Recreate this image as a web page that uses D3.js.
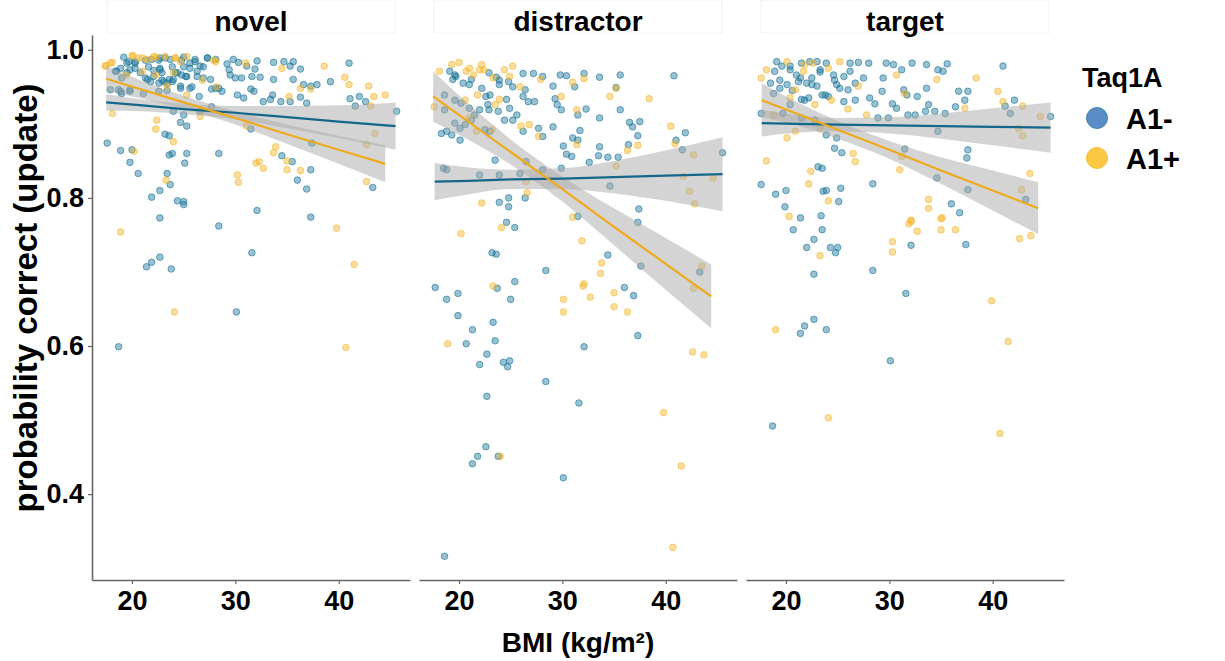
<!DOCTYPE html>
<html><head><meta charset="utf-8">
<script src="https://cdn.jsdelivr.net/npm/d3@7"></script>
<style>
body{margin:0;background:#fff}
svg{display:block}
text{font-family:"Liberation Sans",Arial,sans-serif;font-weight:bold;fill:#000}
</style></head>
<body><svg id="c" width="1225" height="661"></svg>
<script>
// ---------- data ----------
const panels = ["novel", "distractor", "target"];
const groups = ["A1-", "A1+"];
const xTicks = [20, 30, 40];
const yTicks = [0.4, 0.6, 0.8, 1.0];
const yTickLabels = ["0.4", "0.6", "0.8", "1.0"];
const xTitle = "BMI (kg/m²)";
const yTitle = "probability correct (update)";
const legendTitle = "Taq1A";

const novelA1minus = [[19.2,0.990],[19.5,0.982],[20.3,0.984],[21.9,0.987],[22.7,0.989],[23.7,0.987],[25.0,0.990],[25.6,0.982],[26.1,0.987],[26.6,0.978],[27.3,0.989],[28.1,0.987],[29.2,0.981],[29.8,0.987],[30.3,0.983],[31.1,0.978],[32.1,0.985],[33.7,0.983],[34.7,0.984],[35.6,0.984],[36.3,0.974],[35.3,0.978],[41.0,0.982],
[18.5,0.971],[19.0,0.962],[19.8,0.973],[20.8,0.969],[21.5,0.960],[22.1,0.964],[22.7,0.973],[23.1,0.957],[23.6,0.960],[24.0,0.960],[22.6,0.955],[24.2,0.969],[24.8,0.966],[25.3,0.964],[25.6,0.975],[26.3,0.964],[26.9,0.962],[27.6,0.960],[28.4,0.948],[29.4,0.973],[29.5,0.966],[30.0,0.962],[30.6,0.962],[31.6,0.964],[31.9,0.974],[32.4,0.963],[33.7,0.960],[35.6,0.960],[36.6,0.953],[37.3,0.951],[37.9,0.953],[39.2,0.957],
[17.9,0.946],[18.9,0.944],[19.8,0.946],[21.1,0.941],[22.6,0.944],[23.4,0.945],[24.7,0.951],[25.6,0.948],[26.5,0.937],[27.7,0.947],[28.7,0.944],[30.2,0.939],[30.8,0.935],[31.5,0.947],[31.8,0.944],[32.7,0.930],[33.4,0.933],[33.6,0.939],[34.4,0.930],[35.3,0.930],[36.3,0.936],[36.9,0.928],[41.1,0.934],[42.0,0.937],[42.6,0.930],[41.6,0.924],[45.6,0.917],[24.0,0.917],[25.0,0.912],[26.6,0.917],[27.7,0.923],
[24.7,0.902],[25.3,0.897],[23.2,0.886],[23.6,0.884],[17.6,0.874],[18.9,0.864],[20.0,0.865],[19.8,0.848],[23.6,0.858],[23.9,0.860],[25.3,0.860],[25.1,0.847],[28.4,0.860],[31.5,0.893],[34.5,0.857],[35.5,0.849],[37.3,0.838],[37.4,0.874],[20.6,0.833],[23.4,0.833],[23.7,0.818],[21.9,0.801],[22.7,0.810],[24.4,0.796],[25.0,0.795],[25.0,0.791],[36.0,0.824],[36.9,0.812],[43.3,0.814],[32.1,0.783],[37.3,0.774],[22.7,0.773],
[28.4,0.762],[31.6,0.726],[22.7,0.720],[21.9,0.713],[21.4,0.707],[23.8,0.704],[30.1,0.646],[18.7,0.599],
[19.7,0.984],[20.3,0.982],[21.3,0.986],[22.6,0.986],[23.2,0.989],[24.8,0.986],[25.0,0.977],[26.1,0.984],[27.3,0.989],[18.9,0.975],[19.5,0.969],[20.3,0.975],[21.6,0.977],[22.1,0.972],[22.7,0.975],[22.9,0.969],[23.9,0.977],[24.4,0.969],[25.2,0.964],[21.3,0.962],[21.8,0.957],[22.9,0.959],[23.4,0.955],[23.9,0.957],[26.3,0.971],[26.9,0.977],[25.8,0.950],[24.7,0.948],[18.4,0.971],[18.7,0.946],[19.8,0.944],[19.0,0.941],[28.1,0.948]];

const novelA1plus = [[17.5,0.979],[18.1,0.983],[20.1,0.992],[21.0,0.989],[21.5,0.987],[22.3,0.990],[23.2,0.991],[24.2,0.989],[24.7,0.984],[25.3,0.991],[28.1,0.984],[31.0,0.982],[34.5,0.975],[38.6,0.978],
[19.4,0.966],[23.4,0.951],[28.2,0.950],[36.3,0.948],[40.6,0.963],[41.0,0.953],[42.9,0.951],
[35.2,0.937],[37.3,0.947],[43.4,0.937],[44.5,0.939],[43.1,0.924],[18.1,0.914],[26.6,0.910],[25.3,0.939],
[22.4,0.905],[22.3,0.893],[24.0,0.876],[20.2,0.863],[31.1,0.897],[32.0,0.847],[32.3,0.849],[32.7,0.840],[35.0,0.850],[35.0,0.838],[36.3,0.837],[33.9,0.869],[33.7,0.861],[42.7,0.872],[43.5,0.887],[23.3,0.824],[30.2,0.831],[30.3,0.821],[42.7,0.822],
[18.9,0.754],[39.8,0.759],[41.5,0.710],[24.1,0.646],[40.7,0.598],
[20.0,0.992],[20.6,0.989],[22.1,0.991],[24.2,0.989],[21.0,0.971],[22.3,0.966],[24.0,0.969],[26.8,0.959],[17.9,0.982],[17.4,0.978],[27.9,0.986]];

const distractorA1minus = [[19.1,0.971],[19.4,0.960],[19.7,0.964],[20.4,0.955],[21.2,0.960],[22.9,0.969],[23.6,0.963],[24.8,0.957],[23.9,0.953],[22.2,0.948],[22.6,0.937],[24.6,0.933],[25.2,0.950],[26.2,0.968],[26.4,0.946],[27.2,0.968],[28.1,0.964],[26.2,0.937],[26.7,0.930],[27.3,0.930],[29.8,0.966],[30.4,0.965],[31.2,0.950],[32.1,0.968],[33.6,0.963],[35.6,0.966],[35.2,0.949],[40.8,0.965],[29.1,0.951],[29.3,0.934],[29.5,0.926],
[18.6,0.939],[19.6,0.932],[20.2,0.928],[21.0,0.921],[22.0,0.919],[22.8,0.926],[22.9,0.919],[23.8,0.917],[21.2,0.905],[19.6,0.901],[18.8,0.890],[18.3,0.887],[19.3,0.885],[20.6,0.899],[20.1,0.894],[23.0,0.890],[24.9,0.921],[25.6,0.912],[25.2,0.905],[26.2,0.890],[27.7,0.894],[28.1,0.883],[29.1,0.896],[29.9,0.919],[31.5,0.912],[32.3,0.920],[31.7,0.891],[31.0,0.881],[31.5,0.878],[33.6,0.908],[35.6,0.919],[36.5,0.902],[36.8,0.896],[37.5,0.903],[37.3,0.884],[30.1,0.870],[33.6,0.869],[36.4,0.872],[30.4,0.859],[30.9,0.856],[33.5,0.857],[34.4,0.855],[35.4,0.855],[41.0,0.878],[41.9,0.888],[41.6,0.865],[45.5,0.861],
[18.5,0.840],[18.8,0.838],[22.0,0.831],[23.9,0.831],[25.9,0.833],[23.5,0.851],[26.5,0.849],[28.1,0.838],[29.9,0.840],[32.6,0.848],[34.6,0.816],[23.9,0.794],[24.8,0.800],[26.4,0.800],[24.8,0.788],[37.4,0.785],[31.5,0.775],
[37.3,0.767],[24.6,0.767],[25.4,0.760],[23.2,0.726],[23.6,0.724],[34.4,0.723],[37.6,0.708],[43.3,0.700],[28.4,0.702],[25.4,0.687],[23.7,0.678],[17.7,0.679],[19.9,0.671],[18.8,0.663],[36.0,0.679],[36.9,0.668],[25.0,0.663],[19.9,0.641],[23.3,0.632],[21.3,0.622],[23.5,0.607],[20.7,0.603],[22.7,0.589],[37.3,0.614],[32.1,0.599],[22.0,0.575],[24.3,0.578],[24.9,0.580],[24.7,0.572],[28.4,0.552],[22.7,0.532],
[31.6,0.523],[22.6,0.464],[21.8,0.451],[21.3,0.441],[23.8,0.451],[30.1,0.422],[18.6,0.316],
[19.6,0.966],[21.0,0.953],[23.0,0.939],[23.9,0.959],[21.5,0.912],[18.6,0.919],[22.5,0.892],[24.4,0.905],[20.1,0.878]];

const distractorA1plus = [[18.1,0.971],[19.3,0.980],[20.0,0.983],[20.7,0.971],[21.0,0.975],[21.4,0.966],[22.2,0.980],[22.4,0.973],[23.3,0.962],[24.4,0.973],[24.9,0.964],[25.2,0.978],[21.8,0.939],[23.9,0.933],[25.9,0.950],[27.9,0.960],[31.0,0.956],[32.1,0.961],[35.2,0.948],[34.6,0.937],[38.4,0.934],[29.9,0.937],
[21.0,0.908],[17.6,0.923],[21.7,0.890],[23.2,0.892],[26.0,0.897],[26.8,0.899],[27.7,0.883],[31.4,0.919],[31.4,0.872],[37.3,0.871],[36.3,0.864],[40.9,0.873],[40.5,0.897],[42.7,0.858],
[26.5,0.822],[35.2,0.843],[44.6,0.827],[41.7,0.829],[42.3,0.809],[42.8,0.792],[26.6,0.807],[22.2,0.793],[31.0,0.774],
[24.1,0.760],[20.2,0.752],[31.9,0.742],[33.8,0.712],[33.7,0.698],[43.5,0.708],[23.3,0.681],[32.0,0.681],[32.1,0.684],[42.7,0.678],[30.1,0.663],[30.1,0.646],[32.7,0.666],[35.0,0.672],[35.0,0.653],[36.3,0.646],[18.9,0.603],[42.6,0.592],[43.7,0.588],
[39.8,0.510],[24.0,0.451],[41.5,0.438],[40.7,0.328],
[22.0,0.973],[20.6,0.932],[23.5,0.926]];

const targetA1minus = [[18.9,0.971],[19.1,0.984],[19.6,0.978],[20.4,0.978],[21.0,0.966],[21.5,0.982],[22.3,0.984],[23.0,0.984],[23.3,0.973],[23.9,0.982],[26.2,0.982],[27.0,0.983],[28.0,0.982],[29.7,0.982],[30.4,0.980],[31.2,0.973],[32.2,0.982],[33.6,0.980],[34.7,0.973],[35.6,0.981],[35.2,0.971],[41.0,0.978],[24.6,0.966],[25.6,0.964],[26.2,0.971],[27.5,0.962],[26.7,0.955],
[18.5,0.955],[19.4,0.948],[20.1,0.953],[20.6,0.945],[21.2,0.957],[22.0,0.955],[22.5,0.962],[23.0,0.951],[23.5,0.939],[22.2,0.935],[21.5,0.933],[24.1,0.937],[24.9,0.953],[25.2,0.948],[26.0,0.946],[18.8,0.941],[25.6,0.930],[26.7,0.932],[28.1,0.935],[28.6,0.927],[29.3,0.944],[29.4,0.962],[31.4,0.946],[31.7,0.939],[30.3,0.927],[30.7,0.921],[32.7,0.937],[33.6,0.948],[33.8,0.926],[33.5,0.917],[32.5,0.912],[34.4,0.917],[35.4,0.914],[36.4,0.923],[37.3,0.932],[36.7,0.944],[37.6,0.944],[41.2,0.924],[42.1,0.932],[45.6,0.910],[41.7,0.914],
[17.6,0.914],[19.7,0.914],[21.5,0.908],[22.8,0.905],[23.9,0.885],[24.9,0.881],[24.7,0.867],[25.4,0.861],[28.9,0.908],[29.9,0.908],[31.8,0.912],[31.5,0.866],[34.6,0.827],[37.6,0.865],[37.5,0.854],[37.6,0.811],[43.2,0.798],[34.7,0.890],
[23.1,0.842],[23.5,0.840],[28.4,0.819],[17.6,0.818],[19.0,0.805],[20.0,0.810],[23.6,0.809],[23.9,0.810],[25.3,0.813],[25.1,0.795],[19.9,0.788],[21.4,0.773],[23.4,0.776],[36.0,0.792],[36.8,0.780],
[20.7,0.757],[23.5,0.757],[22.7,0.744],[22.0,0.733],[24.3,0.733],[25.0,0.733],[24.8,0.726],[37.4,0.737],[32.1,0.736],[22.7,0.697],[28.4,0.702],[31.6,0.671],[22.7,0.636],[21.8,0.627],[21.4,0.617],[23.9,0.622],[30.1,0.580],[18.7,0.492],
[20.4,0.973],[21.4,0.962],[22.5,0.953],[23.3,0.970],[23.8,0.939],[21.8,0.932],[19.4,0.959],[24.7,0.959],[20.4,0.926]];

const targetA1plus = [[17.6,0.962],[18.1,0.973],[20.1,0.984],[21.7,0.971],[22.6,0.982],[24.1,0.975],[25.2,0.984],[30.7,0.966],[34.6,0.960],[38.4,0.962],[27.0,0.951],[20.4,0.935],[24.4,0.932],[26.0,0.920],[31.5,0.941],[37.3,0.921],[40.5,0.944],[41.0,0.930],[42.9,0.924],[44.6,0.910],[42.5,0.894],[42.9,0.884],[18.8,0.912],[20.9,0.890],[20.1,0.881],[23.3,0.894],[26.5,0.860],[26.7,0.849],[27.8,0.912],[31.2,0.856],[31.0,0.838],[42.8,0.811],[43.6,0.833],[18.1,0.850],[22.4,0.836],[22.2,0.819],[24.1,0.796],[20.3,0.775],[32.1,0.770],[33.8,0.798],[33.8,0.786],[35.1,0.773],
[23.3,0.722],[32.1,0.768],[31.9,0.765],[32.7,0.755],[35.0,0.772],[35.0,0.757],[36.4,0.757],[30.3,0.741],[30.3,0.727],[42.6,0.745],[43.7,0.749],[39.9,0.661],[19.0,0.622],[41.5,0.606],[24.1,0.503],[40.7,0.482],
[21.8,0.980],[20.9,0.946],[22.8,0.926]];

// regression fits: x, fitted value, half-width of the grey band
const novelFitA1minusX   = [17.5, 21, 25, 30, 35, 40, 45.5];
const novelFitA1minusY   = [0.929, 0.925, 0.920, 0.915, 0.909, 0.903, 0.897];
const novelFitA1minusSE  = [0.011, 0.008, 0.007, 0.009, 0.015, 0.022, 0.032];
const novelFitA1plusX    = [17.5, 21, 25, 30, 35, 40, 44.5];
const novelFitA1plusY    = [0.961, 0.946, 0.929, 0.908, 0.886, 0.865, 0.846];
const novelFitA1plusSE   = [0.017, 0.012, 0.009, 0.009, 0.013, 0.019, 0.025];
const distractorFitA1minusX  = [17.65, 21, 25, 30, 35, 40, 45.5];
const distractorFitA1minusY  = [0.822, 0.823, 0.825, 0.826, 0.828, 0.830, 0.832];
const distractorFitA1minusSE = [0.025, 0.018, 0.013, 0.014, 0.022, 0.034, 0.050];
const distractorFitA1plusX   = [17.5, 21, 25, 30, 35, 40, 44.4];
const distractorFitA1plusY   = [0.937, 0.902, 0.862, 0.812, 0.761, 0.711, 0.667];
const distractorFitA1plusSE  = [0.034, 0.024, 0.017, 0.017, 0.025, 0.035, 0.043];
const targetFitA1minusX  = [17.65, 21, 25, 30, 35, 40, 45.6];
const targetFitA1minusY  = [0.901, 0.900, 0.899, 0.898, 0.897, 0.896, 0.895];
const targetFitA1minusSE = [0.018, 0.012, 0.009, 0.011, 0.017, 0.025, 0.034];
const targetFitA1plusX   = [17.65, 21, 25, 30, 35, 40, 44.4];
const targetFitA1plusY   = [0.932, 0.914, 0.892, 0.865, 0.837, 0.810, 0.786];
const targetFitA1plusSE  = [0.023, 0.016, 0.012, 0.012, 0.018, 0.027, 0.035];

// ---------- assemble ----------
const pointsBy = {
  novel: [novelA1minus, novelA1plus],
  distractor: [distractorA1minus, distractorA1plus],
  target: [targetA1minus, targetA1plus]
};
const fitsBy = {
  novel: [[novelFitA1minusX, novelFitA1minusY, novelFitA1minusSE], [novelFitA1plusX, novelFitA1plusY, novelFitA1plusSE]],
  distractor: [[distractorFitA1minusX, distractorFitA1minusY, distractorFitA1minusSE], [distractorFitA1plusX, distractorFitA1plusY, distractorFitA1plusSE]],
  target: [[targetFitA1minusX, targetFitA1minusY, targetFitA1minusSE], [targetFitA1plusX, targetFitA1plusY, targetFitA1plusSE]]
};

const pointColor = ["#1a7599", "#f3b52a"];
const lineColor = ["#14678a", "#eeaa1a"];
const legendColor = ["#5b8bc5", "#fbc843"];

const svg = d3.select("#c");
const panelX0 = [92, 419, 746];
const panelW = 318;
const y = d3.scaleLinear().domain([0.284, 1.02]).range([580, 35]);

panels.forEach((p, i) => {
  const x = d3.scaleLinear().domain([16.13, 46.9]).range([panelX0[i], panelX0[i] + panelW]);
  const g = svg.append("g");

  // strip
  g.append("rect").attr("x", panelX0[i] + 15).attr("y", 0).attr("width", panelW - 30).attr("height", 33)
    .attr("fill", "#fff").attr("stroke", "#f2f2f2").attr("stroke-width", 1);
  g.append("text").attr("x", panelX0[i] + panelW / 2).attr("y", 31).attr("text-anchor", "middle")
    .style("font-size", "28px").text(p);

  // points
  pointsBy[p].forEach((arr, gi) => {
    g.append("g").selectAll("circle").data(arr).join("circle")
      .attr("cx", d => x(d[0])).attr("cy", d => y(d[1])).attr("r", 3.3)
      .attr("fill", pointColor[gi]).attr("fill-opacity", 0.45)
      .attr("stroke", pointColor[gi]).attr("stroke-opacity", 0.6).attr("stroke-width", 1);
  });

  // bands
  fitsBy[p].forEach(([fx, fy, se]) => {
    const rows = fx.map((v, k) => ({x: v, y: fy[k], se: se[k]}));
    g.append("path").datum(rows)
      .attr("d", d3.area().curve(d3.curveMonotoneX).x(d => x(d.x)).y0(d => y(d.y - d.se)).y1(d => y(d.y + d.se)))
      .attr("fill", "#aaaaaa").attr("fill-opacity", 0.5);
  });
  // lines
  fitsBy[p].forEach(([fx, fy], gi) => {
    const rows = fx.map((v, k) => ({x: v, y: fy[k]}));
    g.append("path").datum(rows)
      .attr("d", d3.line().x(d => x(d.x)).y(d => y(d.y)))
      .attr("fill", "none").attr("stroke", lineColor[gi]).attr("stroke-width", 2.2);
  });

  // x axis
  const xa = g.append("g").attr("transform", "translate(0,580)")
    .call(d3.axisBottom(x).tickValues(xTicks).tickSize(4).tickSizeOuter(0).tickPadding(7).tickFormat(d3.format("d")));
  xa.select(".domain").attr("stroke", "#666").attr("stroke-width", 1.6);
  xa.selectAll(".tick line").attr("stroke", "#666").attr("stroke-width", 1.2);
  xa.selectAll(".tick text").style("font-size", "27px").style("font-family", "Liberation Sans, Arial, sans-serif").style("font-weight", "bold").attr("fill", "#000");

  if (i === 0) {
    const ya = g.append("g").attr("transform", `translate(${panelX0[0]},0)`)
      .call(d3.axisLeft(y).tickValues(yTicks).tickSize(4).tickSizeOuter(0).tickPadding(4).tickFormat((d, k) => yTickLabels[k]));
    ya.select(".domain").attr("stroke", "#666").attr("stroke-width", 1.6);
    ya.selectAll(".tick line").attr("stroke", "#666").attr("stroke-width", 1.2);
    ya.selectAll(".tick text").style("font-size", "27px").style("font-family", "Liberation Sans, Arial, sans-serif").style("font-weight", "bold").attr("fill", "#000");
  }
});

// axis titles
svg.append("text").attr("x", 578).attr("y", 652).attr("text-anchor", "middle").style("font-size", "28px").text(xTitle);
svg.append("text").attr("transform", "translate(37,298) rotate(-90)").attr("text-anchor", "middle").style("font-size", "33px").text(yTitle);

// legend
svg.append("text").attr("x", 1082).attr("y", 87).style("font-size", "27px").text(legendTitle);
groups.forEach((gname, gi) => {
  const cy = 118 + gi * 40;
  svg.append("circle").attr("cx", 1097).attr("cy", cy).attr("r", 10.5)
    .attr("fill", legendColor[gi]).attr("stroke", gi === 0 ? "#3a87a8" : "#f6c13a").attr("stroke-width", 1);
  svg.append("text").attr("x", 1126).attr("y", cy + 11).style("font-size", "29px").text(gname);
});
</script>
</body></html>
